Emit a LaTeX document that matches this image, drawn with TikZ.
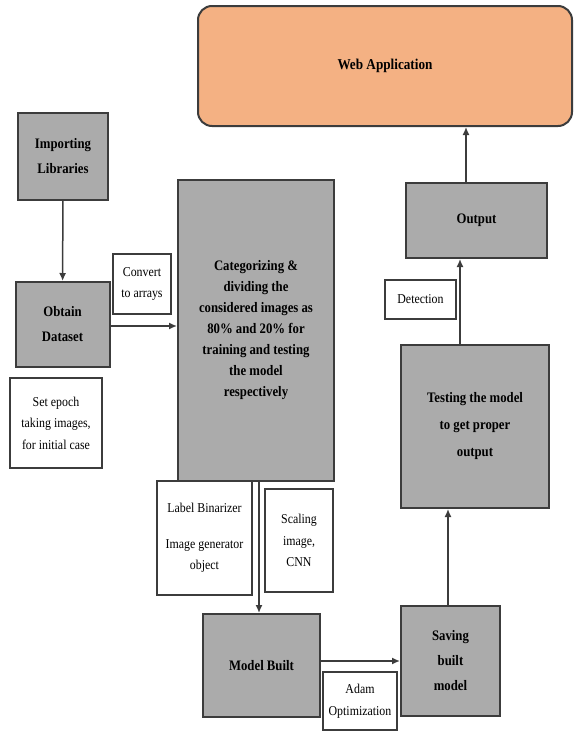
\documentclass[tikz,border=0pt]{standalone}
\usepackage{fontspec}
\setmainfont[FakeStretch=0.88]{Liberation Serif}
\usetikzlibrary{arrows.meta}
\definecolor{boxgray}{HTML}{ABABAB}
\definecolor{edgegray}{HTML}{3C3C3C}
\definecolor{apporange}{HTML}{F4B183}
\tikzset{
  x=1pt, y=-1pt,
  stepbox/.style={draw=edgegray, line width=2pt, fill=boxgray, align=center,
    font=\bfseries\fontsize{14.5}{25}\selectfont, inner sep=2pt},
  notebox/.style={draw=edgegray, line width=1.5pt, fill=white, align=center,
    font=\fontsize{13.5}{21.5}\selectfont, inner sep=2pt},
  appbox/.style={draw=edgegray, line width=2pt, fill=apporange, rounded corners=14pt,
    align=center, font=\bfseries\fontsize{15}{25}\selectfont},
  flow/.style={draw=edgegray, line width=1.5pt, -{Latex[length=8pt,width=7pt]}},
}
\begin{document}
\begin{tikzpicture}
\useasboundingbox (0,0) rectangle (576,731);

% process steps
\node[appbox, minimum width=374pt, minimum height=120pt] (web) at (385,66) {Web Application};
\node[stepbox, minimum width=90pt, minimum height=87pt] (imp) at (63,156.5) {Importing\\Libraries};
\node[stepbox, minimum width=94pt, minimum height=85pt] (obt) at (62.5,324.5) {Obtain\\Dataset};
\node[stepbox, minimum width=156pt, minimum height=301pt,
      font=\bfseries\fontsize{14.5}{21}\selectfont] (cat) at (256,330.5)
  {Categorizing \&\\dividing the\\considered images as\\80\% and 20\% for\\training and testing\\the model\\respectively};
\node[stepbox, minimum width=117pt, minimum height=103pt] (mod) at (261.5,665.5) {Model Built};
\node[stepbox, minimum width=99pt, minimum height=110pt] (sav) at (450.5,661) {Saving\\built\\model};
\node[stepbox, minimum width=148pt, minimum height=163pt,
      font=\bfseries\fontsize{14.5}{27}\selectfont] (tst) at (475,426.5) {Testing the model\\to get proper\\output};
\node[stepbox, minimum width=141pt, minimum height=75pt] (out) at (476.5,220.5) {Output};

% annotations
\node[notebox, minimum width=58pt, minimum height=60pt] (conv) at (142,284) {Convert\\to arrays};
\node[notebox, minimum width=92pt, minimum height=90pt] (epoch) at (56,423) {Set epoch\\taking images,\\for initial case};
\node[notebox, minimum width=95pt, minimum height=114pt] (lbl) at (204.5,538)
  {Label Binarizer\\[14pt]Image generator\\object};
\node[notebox, minimum width=68pt, minimum height=103pt] (scl) at (299,540.5) {Scaling\\image,\\CNN};
\node[notebox, minimum width=74pt, minimum height=58pt] (adam) at (360,701) {Adam\\Optimization};
\node[notebox, minimum width=71pt, minimum height=39pt] (det) at (420.5,299.5) {Detection};

% connectors
\draw[flow] (imp) -- (obt);
\draw[flow] (obt.east |- 0,326) -- (cat.west |- 0,326);
\draw[flow] (cat.south -| 259,0) -- (mod.north -| 259,0);
\draw[flow] (mod.east |- 0,661) -- (sav.west |- 0,661);
\draw[flow] (sav.north -| 448,0) -- (tst.south -| 448,0);
\draw[flow] (tst.north -| 460,0) -- (out.south -| 460,0);
\draw[flow] (out.north -| 466,0) -- (web.south -| 466,0);
\end{tikzpicture}
\end{document}
